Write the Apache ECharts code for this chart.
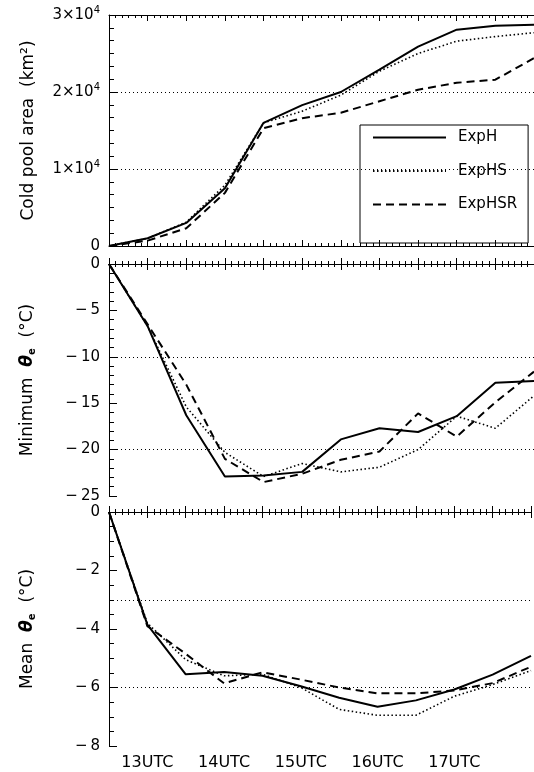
<!DOCTYPE html>
<html>
<head>
<meta charset="utf-8">
<script src="https://cdn.jsdelivr.net/npm/echarts@6/dist/echarts.min.js"></script>
<style>
html,body{margin:0;padding:0;background:#fff;}
#c{width:534px;height:772px;}
</style>
</head>
<body>
<div id="c"></div>
<script>
// ---- data (hours UTC) ----
const times = [12.5, 13, 13.5, 14, 14.5, 15, 15.5, 16, 16.5, 17, 17.5, 18];
const seriesNames = ['ExpH', 'ExpHS', 'ExpHSR'];

// Cold pool area (km^2)
const areaExpH   = [0, 1000, 3000, 7500, 16000, 18300, 20000, 22900, 25900, 28100, 28600, 28750];
const areaExpHS  = [0, 1000, 3100, 7900, 16000, 17500, 19600, 22700, 25000, 26600, 27200, 27700];
const areaExpHSR = [0, 700, 2300, 6900, 15300, 16600, 17300, 18800, 20300, 21200, 21600, 24400];

// Minimum theta_e (deg C)
const minExpH   = [0, -6.7, -16.3, -22.9, -22.8, -22.4, -18.9, -17.7, -18.1, -16.4, -12.8, -12.6];
const minExpHS  = [0, -6.7, -15.4, -20.3, -22.9, -21.5, -22.4, -21.9, -20.0, -16.4, -17.7, -14.2];
const minExpHSR = [0, -6.5, -13.0, -21.0, -23.5, -22.6, -21.1, -20.2, -16.1, -18.6, -14.9, -11.6];

// Mean theta_e (deg C)
const meanExpH   = [0, -3.85, -5.55, -5.47, -5.6, -5.96, -6.35, -6.66, -6.44, -6.07, -5.56, -4.92];
const meanExpHS  = [0, -3.8, -5.05, -5.6, -5.55, -6.0, -6.75, -6.95, -6.95, -6.3, -5.9, -5.42];
const meanExpHSR = [0, -3.9, -4.85, -5.86, -5.48, -5.73, -6.0, -6.2, -6.2, -6.1, -5.85, -5.29];

// tick labels / reference lines
const xTickHours  = [13, 14, 15, 16, 17];
const xTickLabels = ['13UTC', '14UTC', '15UTC', '16UTC', '17UTC'];
const areaRefLines = [10000, 20000];
const minRefLines  = [-10, -20];
const meanRefLines = [-3, -6];

// ---- chart ----
const FONT = 'DejaVu Sans';
const panels = [
  {top: 15,  height: 231, min: 0,   max: 30000, interval: 10000, minorSplit: 6,
   data: [areaExpH, areaExpHS, areaExpHSR], ref: areaRefLines,
   name: 'Cold pool area  (km²)', kind: 'area'},
  {top: 264, height: 232, min: -25, max: 0, interval: 5, minorSplit: 5,
   data: [minExpH, minExpHS, minExpHSR], ref: minRefLines,
   name: 'Minimum  {th|θ}{sub|e}  (°C)', kind: 'num'},
  {top: 512, height: 234, min: -8,  max: 0, interval: 2, minorSplit: 4,
   data: [meanExpH, meanExpHS, meanExpHSR], ref: meanRefLines,
   name: 'Mean  {th|θ}{sub|e}  (°C)', kind: 'num'}
];

const lineStyles = [
  {color: '#000', width: 2, type: 'solid'},
  {color: '#000', width: 1.6, type: [1.5, 2.5]},
  {color: '#000', width: 2, type: [8, 5]}
];

const grids = [], xAxes = [], yAxes = [], series = [];
panels.forEach((p, i) => {
  grids.push({left: 109, width: 440, top: p.top, height: p.height});
  const baseX = {
    type: 'value', gridIndex: i, min: 12.5, max: 18, interval: 0.5,
    axisLine: {show: true, lineStyle: {color: '#000', width: 1}},
    axisTick: {show: true, inside: true, length: 6, lineStyle: {color: '#000'}},
    minorTick: {show: true, splitNumber: 6, length: 3, lineStyle: {color: '#000'}},
    splitLine: {show: false}, minorSplitLine: {show: false}
  };
  xAxes.push(Object.assign({}, baseX, {
    position: 'bottom',
    axisLabel: {
      show: i === 2, margin: 9, fontFamily: FONT, fontSize: 16, color: '#000',
      formatter: v => { const k = xTickHours.indexOf(v); return k >= 0 ? xTickLabels[k] : ''; }
    }
  }));
  xAxes.push(Object.assign({}, baseX, {position: 'top', axisLabel: {show: false}}));
  yAxes.push({
    type: 'value', gridIndex: i, min: p.min, max: p.max, interval: p.interval,
    axisLine: {show: true, lineStyle: {color: '#000', width: 1}},
    axisTick: {show: true, inside: true, length: 8, lineStyle: {color: '#000'}},
    minorTick: {show: true, splitNumber: p.minorSplit, length: 5, lineStyle: {color: '#000'}},
    splitLine: {show: false},
    axisLabel: {
      margin: 9, fontFamily: FONT, fontSize: 15, color: '#000',
      formatter: v => {
        if (p.kind === 'area') return v === 0 ? '{b|0}' : '{b|' + (v / 10000) + '×10}{s|4}';
        return v === 0 ? '0' : '\u2212\u2009' + Math.abs(v);
      },
      rich: {
        b: {fontFamily: FONT, fontSize: 15, color: '#000'},
        s: {fontFamily: FONT, fontSize: 10, color: '#000', padding: [0, 0, 9, 0]}
      }
    },
    name: p.name, nameLocation: 'middle', nameGap: 72,
    nameTextStyle: {
      fontFamily: FONT, fontSize: 17, color: '#000',
      rich: {
        th: {fontFamily: FONT, fontSize: 17, fontStyle: 'italic', fontWeight: 'bold', color: '#000'},
        sub: {fontFamily: FONT, fontSize: 10, fontWeight: 'bold', color: '#000', padding: [9, 0, 0, 0]}
      }
    }
  });
  p.data.forEach((vals, k) => {
    const s = {
      type: 'line', name: seriesNames[k], xAxisIndex: 2 * i, yAxisIndex: i,
      data: times.map((t, j) => [t, vals[j]]),
      symbol: 'none', lineStyle: lineStyles[k], itemStyle: {color: '#000'},
      z: 3
    };
    if (k === 0) {
      s.markLine = {
        silent: true, symbol: 'none', label: {show: false}, animation: false,
        lineStyle: {type: [1, 3], color: '#000', width: 1},
        data: p.ref.map(v => ({yAxis: v}))
      };
    }
    series.push(s);
  });
});

const chart = echarts.init(document.getElementById('c'), null, {renderer: 'canvas'});
chart.setOption({
  animation: false,
  backgroundColor: '#fff',
  grid: grids, xAxis: xAxes, yAxis: yAxes, series: series,
  legend: {
    data: seriesNames, orient: 'vertical', left: 360, top: 125,
    itemWidth: 73, itemHeight: 14, itemGap: 18.5,
    padding: [5, 11, 31, 12],
    borderColor: '#000', borderWidth: 1, backgroundColor: 'transparent',
    itemStyle: {opacity: 0},
    lineStyle: {inherit: true},
    textStyle: {fontFamily: FONT, fontSize: 15, color: '#000', padding: [0, 0, 0, 7]},
    selectedMode: false
  }
});
</script>
</body>
</html>
